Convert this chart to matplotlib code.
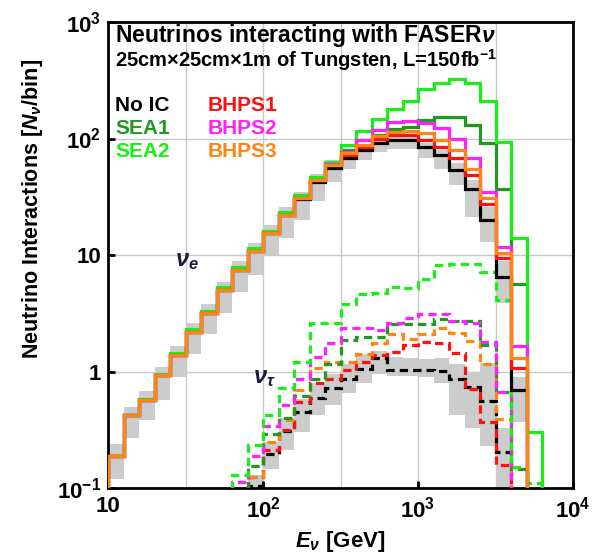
import numpy as np
import matplotlib
matplotlib.use("Agg")
import matplotlib.pyplot as plt

plt.rcParams.update({
    'font.family': ['Liberation Sans', 'DejaVu Sans'],
    'font.weight': 'bold',
    'mathtext.fontset': 'custom',
    'mathtext.rm': 'Liberation Sans:bold',
    'mathtext.it': 'Liberation Sans:italic:bold',
    'mathtext.bf': 'Liberation Sans:bold',
})

# ---------------- data ----------------
# energy bins: log10(E/GeV) from 1.0 in steps of 0.1 (28 bins)
log_e_start = 1.0
log_e_step = 0.1
n_bins = 28

N = None
# electron neutrino interactions per bin
nue_noic = [0.19, 0.42, 0.57, 0.93, 1.39, 2.2, 3.16, 5.0, 7.5, 10.8, 15.3, 22, 30, 42, 56,
            67.6, 80, 92, 98, 98, 85, 72, 54, 37, 20, 6.5, 0.69, N]
nue_sea1 = [0.19, 0.42, 0.57, 0.93, 1.39, 2.2, 3.16, 5.0, 7.5, 10.8, 15.3, 22, 30.7, 44, 59,
            80, 97, 107, 120, 126, 144, 152, 152, 131, 91, 37, 5.6, N]
nue_sea2 = [0.19, 0.42, 0.58, 0.95, 1.43, 2.3, 3.3, 5.3, 7.9, 11.4, 16.2, 23.3, 32.5, 47, 63,
            88, 115, 146, 178, 211, 264, 302, 322, 298, 210, 94, 14, 0.3]
nue_bhps1 = [0.19, 0.42, 0.57, 0.93, 1.39, 2.2, 3.16, 5.0, 7.5, 10.8, 15.3, 22, 30.7, 44, 59,
             72, 85, 100, 107, 107, 98, 85, 67.6, 48.6, 27.5, 9.4, 1.07, N]
nue_bhps2 = [0.19, 0.42, 0.57, 0.93, 1.39, 2.2, 3.16, 5.0, 7.5, 10.8, 15.3, 22, 30.7, 44, 60,
             77, 98, 118, 139, 142, 135, 122, 100, 67.6, 35, 11.6, 1.66, N]
nue_bhps3 = [0.19, 0.42, 0.57, 0.93, 1.39, 2.2, 3.16, 5.0, 7.5, 10.8, 15.3, 22, 30.7, 44, 59,
             74.7, 88, 105, 114, 117, 111, 97, 80, 55, 30.7, 10.4, 1.3, N]
nue_band_lo = [0.12, 0.27, 0.38, 0.57, 0.9, 1.4, 2.1, 3.2, 4.8, 6.7, 9.8, 14, 20, 29, 42,
               55, 66, 76, 82, 82, 68, 55, 40, 21, 13, 3.85, 0.37, N]
nue_band_hi = [0.24, 0.5, 0.68, 1.1, 1.65, 2.6, 3.8, 5.9, 8.8, 12.6, 18, 26, 35, 50, 65,
               75, 88, 100, 105, 104, 92, 80, 62, 44, 26, 8.8, 0.89, N]

# tau neutrino interactions per bin
nut_noic = [N, N, N, N, N, N, N, N, N, 0.104, 0.196, 0.31, 0.45, 0.59, 0.72,
            0.87, 1.06, 1.30, 1.03, 1.03, 1.04, 1.01, 0.87, 0.74, 0.56, 0.205, N, N]
nut_sea1 = [N, N, N, N, N, N, N, N, N, 0.155, 0.29, 0.40, 0.62, 0.86, 1.17,
            1.86, 1.99, 1.99, 2.54, 2.57, 2.57, 2.82, 2.73, 2.73, 1.69, 0.67, 0.146, N]
nut_sea2 = [N, N, N, N, N, N, N, N, 0.13, 0.234, 0.42, 0.72, 1.21, 2.59, 2.6,
            3.8, 4.6, 4.7, 5.3, 5.2, 6.2, 8.2, 8.4, 8.4, 7.2, 4.1, 0.15, 0.11]
nut_bhps1 = [N, N, N, N, N, N, N, N, N, 0.124, 0.21, 0.315, 0.55, 0.79, 0.87,
             1.04, 1.21, 1.38, 1.48, 1.69, 1.8, 1.74, 1.45, 0.71, 0.37, 0.157, N, N]
nut_bhps2 = [N, N, N, N, N, N, N, N, 0.113, 0.19, 0.34, 0.52, 0.86, 1.34, 1.74,
             2.34, 2.34, 2.28, 2.59, 2.86, 3.09, 3.09, 2.73, 2.62, 1.8, 0.67, N, N]
nut_bhps3 = [N, N, N, N, N, N, N, N, N, 0.125, 0.25, 0.38, 0.69, 1.08, 1.21,
             1.21, 1.41, 1.74, 2.08, 1.89, 2.1, 2.34, 2.15, 1.84, 1.17, 0.39, N, N]
nut_band_lo = [N, N, N, N, N, N, N, N, N, 0.08, 0.146, 0.21, 0.30, 0.42, 0.52,
               0.65, 0.80, 0.95, 0.92, 0.92, 0.90, 0.80, 0.42, 0.33, 0.23, 0.10, N, N]
nut_band_hi = [N, N, N, N, N, N, N, N, N, 0.13, 0.25, 0.40, 0.58, 0.80, 0.95,
               1.15, 1.40, 1.50, 1.32, 1.30, 1.28, 1.30, 1.15, 1.00, 1.18, 0.33, N, N]

legend_names = ["No IC", "SEA1", "SEA2", "BHPS1", "BHPS2", "BHPS3"]
legend_colors = ["#000000", "#1f9a1f", "#19ee19", "#ff1010", "#ff20ff", "#ff8410"]

x_ticks = [10, 100, 1000, 10000]
x_ticklabels = ["10", r"$10^{2}$", r"$10^{3}$", r"$10^{4}$"]
y_ticks = [0.1, 1, 10, 100, 1000]
y_ticklabels = [r"$10^{-1}$", "1", "10", r"$10^{2}$", r"$10^{3}$"]
x_grid = [10**1.5, 100, 10**2.5, 1000, 10**3.5]
y_grid = [1, 10, 100]

# ---------------- plotting ----------------
edges = 10 ** (log_e_start + log_e_step * np.arange(n_bins + 1))


def arr(v):
    return np.array([np.nan if x is None else x for x in v], dtype=float)


def valid_range(v):
    idx = np.where(np.isfinite(v))[0]
    return idx[0], idx[-1]


fig = plt.figure(figsize=(6.0, 5.56), dpi=100)
ax = fig.add_axes([108 / 600, 1 - 488 / 556, 465 / 600, 466 / 556])
ax.set_xscale('log')
ax.set_yscale('log')
ax.set_xlim(10, 1e4)
ax.set_ylim(0.1, 1e3)

for g in x_grid:
    ax.axvline(g, color='#c8c8c8', lw=1.0, zorder=0)
for g in y_grid:
    ax.axhline(g, color='#c8c8c8', lw=1.0, zorder=0)

BASE = 1e-4


def band(lo, hi):
    lo, hi = arr(lo), arr(hi)
    a, b = valid_range(hi)
    ax.stairs(hi[a:b + 1], edges[a:b + 2], baseline=lo[a:b + 1], fill=True,
              color='#cccccc', lw=0, zorder=1)


def line(vals, color, ls='-', z=2):
    v = arr(vals)
    a, b = valid_range(v)
    ax.stairs(v[a:b + 1], edges[a:b + 2], baseline=BASE, color=color,
              lw=2.3, linestyle=ls, zorder=z)


band(nue_band_lo, nue_band_hi)
band(nut_band_lo, nut_band_hi)

c = dict(zip(legend_names, legend_colors))
dash = (0, (2.6, 1.6))
# tau (dashed)
line(nut_noic, c["No IC"], dash, 3)
line(nut_bhps1, c["BHPS1"], dash, 3)
line(nut_bhps3, c["BHPS3"], dash, 3)
line(nut_sea1, c["SEA1"], dash, 3)
line(nut_bhps2, c["BHPS2"], dash, 3)
line(nut_sea2, c["SEA2"], dash, 3)
# electron (solid)
line(nue_noic, c["No IC"], '-', 4)
line(nue_sea1, c["SEA1"], '-', 4)
line(nue_sea2, c["SEA2"], '-', 4)
line(nue_bhps1, c["BHPS1"], '-', 4)
line(nue_bhps2, c["BHPS2"], '-', 4)
line(nue_bhps3, c["BHPS3"], '-', 5)

ax.set_xticks(x_ticks)
ax.set_xticklabels(x_ticklabels)
ax.set_yticks(y_ticks)
ax.set_yticklabels(y_ticklabels)
ax.minorticks_off()
ax.tick_params(axis='both', direction='in', length=5, width=2, labelsize=16, colors='black')
ax.tick_params(axis='x', pad=6)
ax.tick_params(axis='y', pad=5)
for s in ax.spines.values():
    s.set_linewidth(2.0)

ax.set_xlabel(r"$E_{\nu}$ [GeV]", fontsize=16, fontweight='bold', labelpad=5)
fig.text(33 / 600, 1 - 209 / 556, r"Neutrino Interactions [$N_{\nu}$/bin]", rotation=90,
         fontsize=15.5, fontweight='bold', ha='center', va='center')

tr = ax.transAxes
ax.text(0.015, 0.958, r"Neutrinos interacting with FASER$\nu$", transform=tr,
        fontsize=16.5, fontweight='bold', va='baseline', ha='left')
ax.text(0.015, 0.904, r"25cm$\times$25cm$\times$1m of Tungsten, L=150fb$^{-1}$",
        transform=tr, fontsize=14.5, fontweight='bold', va='baseline', ha='left')

rows = [0.809, 0.760, 0.710]
for i, (name, col) in enumerate(zip(legend_names, legend_colors)):
    xcol = 0.015 if i < 3 else 0.215
    ax.text(xcol, rows[i % 3], name, color=col, transform=tr, fontsize=15,
            fontweight='bold', va='baseline', ha='left')

ax.text(27, 9.0, r"$\nu_{e}$", color='#1c1c3c', fontsize=17, ha='left', va='center')
ax.text(86, 0.88, r"$\nu_{\tau}$", color='#1c1c3c', fontsize=17, ha='left', va='center')

fig.savefig("out.png", dpi=100)
